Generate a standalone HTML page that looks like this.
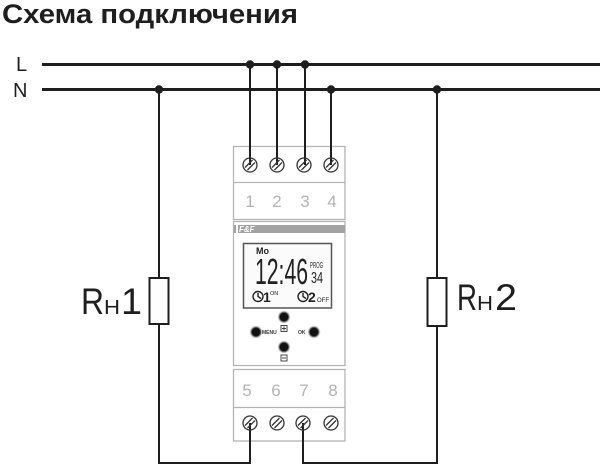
<!DOCTYPE html>
<html><head><meta charset="utf-8"><style>
html,body{margin:0;padding:0;background:#fff;}
svg{display:block;}
text{font-family:"Liberation Sans","DejaVu Sans",sans-serif;}
</style></head><body>
<svg width="600" height="465" viewBox="0 0 600 465" xmlns="http://www.w3.org/2000/svg">
<defs>
<radialGradient id="glow" cx="50%" cy="50%" r="50%">
<stop offset="55%" stop-color="#111"/>
<stop offset="70%" stop-color="#777"/>
<stop offset="100%" stop-color="#fff" stop-opacity="0"/>
</radialGradient>
</defs>
<rect width="600" height="465" fill="#fff"/>
<!-- Title -->
<text x="2" y="23" font-size="27" font-weight="bold" fill="#1e1e1e" textLength="296" lengthAdjust="spacingAndGlyphs">Схема подключения</text>
<!-- L / N labels -->
<text x="16" y="71" font-size="20" fill="#1e1e1e">L</text>
<text x="13" y="97" font-size="20" fill="#1e1e1e">N</text>
<!-- Bus lines -->
<line x1="42" y1="64.5" x2="600" y2="64.5" stroke="#1e1e1e" stroke-width="3"/>
<line x1="42" y1="89.5" x2="600" y2="89.5" stroke="#1e1e1e" stroke-width="3"/>

<!-- Device body -->
<g stroke="#b4b4b4" stroke-width="1.3" fill="#fff">
<rect x="233.5" y="146.5" width="111.5" height="73"/>
<line x1="233.5" y1="182.5" x2="345" y2="182.5"/>
<rect x="233.5" y="221.5" width="111.5" height="144"/>
<rect x="233.5" y="369.5" width="111.5" height="71.5"/>
<line x1="233.5" y1="407.5" x2="345" y2="407.5"/>
</g>
<!-- gray band -->
<rect x="234" y="225" width="111" height="8" fill="#a3a3a3"/>
<text x="239" y="232" font-size="8" font-weight="bold" font-style="italic" fill="#fff">F&amp;F</text>
<rect x="236" y="225" width="2" height="8" fill="#fff"/>

<!-- numbers -->
<g font-size="17" fill="#b3b3b3" text-anchor="middle">
<text x="250" y="207">1</text>
<text x="277" y="207">2</text>
<text x="305" y="207">3</text>
<text x="332" y="207">4</text>
<text x="247" y="396">5</text>
<text x="276" y="396">6</text>
<text x="304" y="396">7</text>
<text x="333" y="396">8</text>
</g>

<!-- wires -->
<g stroke="#1e1e1e" stroke-width="2" fill="none">
<line x1="250" y1="64" x2="250" y2="165"/>
<line x1="277" y1="64" x2="277" y2="165"/>
<line x1="305" y1="64" x2="305" y2="165"/>
<line x1="331" y1="89" x2="331" y2="165"/>
<polyline points="159,89 159,278"/>
<polyline points="159,324 159,463 250,463 250,423"/>
<polyline points="437,89 437,278"/>
<polyline points="437,326 437,463 303,463 303,423"/>
</g>
<!-- resistors -->
<rect x="149.5" y="278" width="19" height="46" fill="#fff" stroke="#1e1e1e" stroke-width="2"/>
<rect x="427.5" y="278" width="19" height="48" fill="#fff" stroke="#1e1e1e" stroke-width="2"/>

<!-- dots -->
<g fill="#1e1e1e">
<circle cx="250" cy="64.5" r="4.2"/>
<circle cx="277" cy="64.5" r="4.2"/>
<circle cx="305" cy="64.5" r="4.2"/>
<circle cx="159" cy="89.5" r="4.2"/>
<circle cx="331" cy="89.5" r="4.2"/>
<circle cx="437" cy="89.5" r="4.2"/>
</g>

<!-- terminals -->
<g stroke="#333" stroke-width="1.3" fill="none">
<g transform="translate(250,165)"><circle r="7"/><line x1="-5" y1="2.5" x2="2.5" y2="-5"/><line x1="-2.5" y1="5" x2="5" y2="-2.5"/></g>
<g transform="translate(277,165)"><circle r="7"/><line x1="-5" y1="2.5" x2="2.5" y2="-5"/><line x1="-2.5" y1="5" x2="5" y2="-2.5"/></g>
<g transform="translate(304,165)"><circle r="7"/><line x1="-5" y1="2.5" x2="2.5" y2="-5"/><line x1="-2.5" y1="5" x2="5" y2="-2.5"/></g>
<g transform="translate(331,165)"><circle r="7"/><line x1="-5" y1="2.5" x2="2.5" y2="-5"/><line x1="-2.5" y1="5" x2="5" y2="-2.5"/></g>
<g transform="translate(250,423)"><circle r="7"/><line x1="-5" y1="2.5" x2="2.5" y2="-5"/><line x1="-2.5" y1="5" x2="5" y2="-2.5"/></g>
<g transform="translate(277,423)"><circle r="7"/><line x1="-5" y1="2.5" x2="2.5" y2="-5"/><line x1="-2.5" y1="5" x2="5" y2="-2.5"/></g>
<g transform="translate(303,423)"><circle r="7"/><line x1="-5" y1="2.5" x2="2.5" y2="-5"/><line x1="-2.5" y1="5" x2="5" y2="-2.5"/></g>
<g transform="translate(331,423)"><circle r="7"/><line x1="-5" y1="2.5" x2="2.5" y2="-5"/><line x1="-2.5" y1="5" x2="5" y2="-2.5"/></g>
</g>

<!-- LCD -->
<rect x="243.5" y="243.5" width="88" height="64.5" fill="#fbfbfb" stroke="#555" stroke-width="1.5"/>
<text x="256" y="254" font-size="9" font-weight="bold" fill="#222">Mo</text>
<text x="255" y="284" font-size="36" fill="#222" textLength="53" lengthAdjust="spacingAndGlyphs">12:46</text>
<text x="310" y="268" font-size="8" fill="#222" textLength="13" lengthAdjust="spacingAndGlyphs">PROG</text>
<text x="311" y="283" font-size="16" fill="#222" textLength="12" lengthAdjust="spacingAndGlyphs">34</text>
<!-- clocks -->
<g stroke="#222" stroke-width="1.4" fill="none">
<circle cx="258" cy="296.5" r="5"/>
<polyline points="258,293 258,296.5 261,298.5"/>
<circle cx="303" cy="296.5" r="5"/>
<polyline points="303,293 303,296.5 306,298.5"/>
</g>
<text x="263" y="302" font-size="14" font-weight="bold" fill="#222">1</text>
<text x="270" y="295" font-size="5.5" fill="#222">ON</text>
<text x="308" y="302" font-size="14" font-weight="bold" fill="#222">2</text>
<text x="317" y="302" font-size="6" fill="#222">OFF</text>

<!-- buttons -->
<circle cx="284" cy="317" r="7" fill="url(#glow)"/>
<circle cx="256" cy="332" r="7" fill="url(#glow)"/>
<circle cx="314" cy="332" r="7" fill="url(#glow)"/>
<circle cx="284" cy="347" r="7" fill="url(#glow)"/>
<g stroke="#333" stroke-width="0.9" fill="none">
<rect x="281" y="325.5" width="6" height="6"/>
<line x1="284" y1="326.5" x2="284" y2="330.5"/><line x1="282" y1="328.5" x2="286" y2="328.5"/>
<rect x="281" y="355" width="6" height="6"/>
<line x1="282" y1="358" x2="286" y2="358"/>
</g>
<text x="262" y="334" font-size="5" font-weight="bold" fill="#333">MENU</text>
<text x="298" y="334" font-size="5" font-weight="bold" fill="#333">OK</text>

<!-- resistor labels -->
<text x="81" y="314" font-size="37" fill="#1e1e1e" textLength="23" lengthAdjust="spacingAndGlyphs">R</text>
<text x="104" y="314" font-size="20" fill="#1e1e1e" textLength="16" lengthAdjust="spacingAndGlyphs">H</text>
<text x="121" y="314" font-size="37" fill="#1e1e1e" textLength="21" lengthAdjust="spacingAndGlyphs">1</text>
<text x="457" y="310" font-size="37" fill="#1e1e1e" textLength="20" lengthAdjust="spacingAndGlyphs">R</text>
<text x="477" y="310" font-size="20" fill="#1e1e1e" textLength="16" lengthAdjust="spacingAndGlyphs">H</text>
<text x="495" y="310" font-size="37" fill="#1e1e1e" textLength="22" lengthAdjust="spacingAndGlyphs">2</text>
</svg>
</body></html>
